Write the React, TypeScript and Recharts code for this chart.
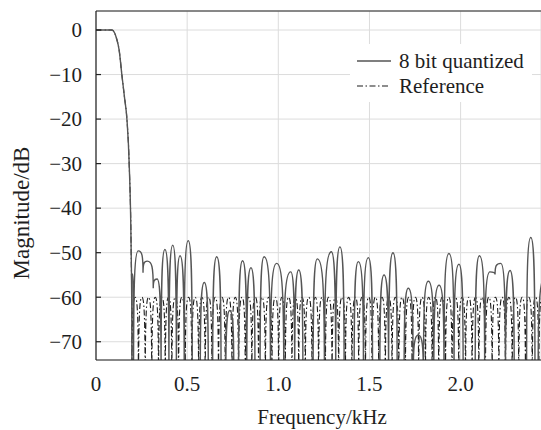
import React from 'react';
import { LineChart, Line, XAxis, YAxis, CartesianGrid, Legend, ReferenceLine } from 'recharts';

const FONT = 'Liberation Serif, Tinos, Times New Roman, DejaVu Serif, serif';
const TEXT = '#1e1e1e';
const QUANT_COLOR = '#555555';
const REF_COLOR = '#1c1c1c';
const REF_DASH = '6 2.5 1.5 2.5';

// pass band + transition band (both responses share it)
const bandFreq = [0, 0.04, 0.085, 0.097, 0.112, 0.127, 0.142, 0.156, 0.17, 0.182, 0.193];
const bandDb = [0, 0, 0, -0.3, -1.8, -4.5, -10.1, -15, -20.2, -30, -50];

// 8 bit quantized stop band: lobe peaks, dips and nulls (nulls sit below the axis)
const quantFreq = [
  0.197, 0.201, 0.206, 0.232, 0.258, 0.281, 0.314, 0.335, 0.357, 0.378,
  0.4, 0.421, 0.441, 0.461, 0.484, 0.506, 0.528, 0.572, 0.594, 0.616,
  0.64, 0.662, 0.686, 0.712, 0.734, 0.756, 0.782, 0.804, 0.827, 0.85,
  0.872, 0.9, 0.922, 0.957, 0.991, 1.03, 1.068, 1.09, 1.112, 1.135,
  1.191, 1.214, 1.253, 1.291, 1.315, 1.338, 1.361, 1.416, 1.439, 1.467,
  1.494, 1.517, 1.557, 1.58, 1.605, 1.629, 1.652, 1.69, 1.713, 1.74,
  1.768, 1.796, 1.823, 1.853, 1.882, 1.909, 1.936, 1.964, 1.991, 2.014,
  2.08, 2.103, 2.132, 2.161, 2.189, 2.22, 2.246, 2.271, 2.294, 2.362,
  2.385, 2.408, 2.425, 2.47,
];
const quantDb = [
  -79, -54.8, -79, -49.6, -54.5, -51.9, -58, -55.9, -79, -49.3,
  -79, -48.3, -79, -50.7, -79, -47.3, -79, -79, -56.7, -79,
  -79, -50.9, -79, -79, -63, -79, -79, -51.8, -79, -53.4,
  -79, -79, -50.9, -79, -52.4, -79, -54.3, -79, -53.9, -79,
  -79, -51.4, -79, -49.8, -79, -48.7, -79, -79, -52, -79,
  -51.1, -79, -79, -55, -79, -50, -79, -79, -58, -79,
  -68.5, -79, -56.4, -79, -57.3, -79, -50.2, -79, -52.6, -79,
  -79, -50.7, -79, -54.3, -54.9, -52.4, -79, -54, -79, -79,
  -46.6, -79, -79, -55,
];

// reference (unquantized) equiripple stop band
const refPeakFreq = [
  0.215, 0.252, 0.288, 0.325, 0.361, 0.398, 0.435, 0.471, 0.508, 0.544,
  0.581, 0.618, 0.654, 0.691, 0.727, 0.764, 0.801, 0.837, 0.874, 0.91,
  0.947, 0.984, 1.02, 1.057, 1.093, 1.13, 1.167, 1.203, 1.24, 1.276,
  1.313, 1.35, 1.386, 1.423, 1.459, 1.496, 1.533, 1.569, 1.606, 1.642,
  1.679, 1.716, 1.752, 1.789, 1.825, 1.862, 1.899, 1.935, 1.972, 2.008,
  2.045, 2.082, 2.118, 2.155, 2.191, 2.228, 2.265, 2.301, 2.338, 2.374,
  2.411, 2.448,
];
const refNullFreq = [
  0.197, 0.233, 0.27, 0.306, 0.343, 0.38, 0.416, 0.453, 0.489, 0.526,
  0.563, 0.599, 0.636, 0.672, 0.709, 0.746, 0.782, 0.819, 0.855, 0.892,
  0.929, 0.965, 1.002, 1.038, 1.075, 1.112, 1.148, 1.185, 1.221, 1.258,
  1.295, 1.331, 1.368, 1.404, 1.441, 1.478, 1.514, 1.551, 1.587, 1.624,
  1.661, 1.697, 1.734, 1.77, 1.807, 1.844, 1.88, 1.917, 1.953, 1.99,
  2.027, 2.063, 2.1, 2.136, 2.173, 2.21, 2.246, 2.283, 2.319, 2.356,
  2.393, 2.429, 2.466,
];
const REF_PEAK_DB = -60;
const REF_NULL_DB = -86;

const xTicks = [0, 0.5, 1.0, 1.5, 2.0];
const yTicks = [0, -10, -20, -30, -40, -50, -60, -70];

const bandData = bandFreq.map((f, i) => ({ f, db: bandDb[i] }));
const quantData = [...bandData, ...quantFreq.map((f, i) => ({ f, db: quantDb[i] }))];
const refData = [
  ...bandData,
  ...[
    ...refNullFreq.map((f) => ({ f, db: REF_NULL_DB })),
    ...refPeakFreq.map((f) => ({ f, db: REF_PEAK_DB })),
  ].sort((a, b) => a.f - b.f),
];

// curve: flat tops on maxima, vertical flanks into minima, monotone elsewhere
const ARC = 0.78;
const lobeCurve = (context: any) => {
  let px: number[] = [];
  let py: number[] = [];
  return {
    areaStart() {},
    areaEnd() {},
    lineStart() {
      px = [];
      py = [];
    },
    point(x: number, y: number) {
      px.push(+x);
      py.push(+y);
    },
    lineEnd() {
      const n = px.length;
      if (!n) return;
      context.moveTo(px[0], py[0]);
      const kind: string[] = [];
      const m: number[] = [];
      for (let i = 0; i < n; i++) {
        const yp = i > 0 ? py[i - 1] : py[i];
        const yn = i < n - 1 ? py[i + 1] : py[i];
        m.push(0);
        if (py[i] <= yp && py[i] <= yn) kind.push('h');
        else if (py[i] >= yp && py[i] >= yn) kind.push('v');
        else {
          kind.push('s');
          const h0 = px[i] - px[i - 1];
          const h1 = px[i + 1] - px[i];
          const s0 = (py[i] - py[i - 1]) / h0;
          const s1 = (py[i + 1] - py[i]) / h1;
          const p = (s0 * h1 + s1 * h0) / (h0 + h1);
          m[i] = (Math.sign(s0) + Math.sign(s1)) * Math.min(Math.abs(s0), Math.abs(s1), 0.5 * Math.abs(p));
        }
      }
      for (let i = 0; i < n - 1; i++) {
        const x0 = px[i], y0 = py[i], x1 = px[i + 1], y1 = py[i + 1];
        const dx = x1 - x0, dy = y1 - y0;
        let c1x = x0 + dx / 3, c1y = y0 + (m[i] * dx) / 3;
        if (kind[i] === 'h') { c1x = x0 + ARC * dx; c1y = y0; }
        if (kind[i] === 'v') { c1x = x0; c1y = y0 + ARC * dy; }
        let c2x = x1 - dx / 3, c2y = y1 - (m[i + 1] * dx) / 3;
        if (kind[i + 1] === 'h') { c2x = x1 - ARC * dx; c2y = y1; }
        if (kind[i + 1] === 'v') { c2x = x1; c2y = y1 - ARC * dy; }
        context.bezierCurveTo(c1x, c1y, c2x, c2y, x1, y1);
      }
    },
  };
};

const fmtY = (v: number) => (v < 0 ? `\u2212${-v}` : `${v}`);
const fmtX = (v: number) => (v === 0 ? '0' : v.toFixed(1));

const textStyle = { fontFamily: FONT, fontSize: 21 };

const YTick = (props: any) => {
  const { x, y, payload } = props;
  return (
    <g>
      <line x1={x + 14} x2={x + 19} y1={y} y2={y} stroke="#222" strokeWidth={1.2} />
      <text x={x} y={y} dy="0.35em" textAnchor="end" style={textStyle} fill={TEXT}>
        {fmtY(payload.value)}
      </text>
    </g>
  );
};

const XTick = (props: any) => {
  const { x, y, payload } = props;
  return (
    <text x={x} y={y} dy="0.71em" textAnchor="middle" style={textStyle} fill={TEXT}>
      {fmtX(payload.value)}
    </text>
  );
};

const LegendBox = () => (
  <svg width={182} height={58} style={{ display: 'block', background: '#fff' }}>
    <line x1={7} x2={41} y1={17} y2={17} stroke={QUANT_COLOR} strokeWidth={1.4} />
    <text x={49} y={17} dy="0.35em" style={textStyle} fill={TEXT}>
      8 bit quantized
    </text>
    <line x1={7} x2={40} y1={42} y2={42} stroke={REF_COLOR} strokeWidth={1.1} strokeDasharray={REF_DASH} />
    <text x={49} y={42} dy="0.35em" style={textStyle} fill={TEXT}>
      Reference
    </text>
  </svg>
);

export default function App() {
  return (
    <div
      style={{ position: 'absolute', left: 0, top: 0, width: 541, height: 430, background: '#fff', fontFamily: FONT }}
    >
      <LineChart width={541} height={430} margin={{ top: 11, right: 0, bottom: 0, left: 0 }}>
        <CartesianGrid stroke="#dcdcdc" strokeWidth={1} />
        <XAxis
          dataKey="f"
          type="number"
          domain={[0, 2.441]}
          allowDataOverflow
          ticks={xTicks}
          interval={0}
          tickLine={false}
          tickSize={0}
          tickMargin={16}
          height={70}
          axisLine={{ stroke: '#222', strokeWidth: 1.2 }}
          tick={<XTick />}
          label={() => (
            <text x={322} y={424} textAnchor="middle" style={textStyle} fill={TEXT}>
              Frequency/kHz
            </text>
          )}
        />
        <YAxis
          type="number"
          domain={[-74.1, 4.27]}
          allowDataOverflow
          ticks={yTicks}
          interval={0}
          width={96}
          tickSize={0}
          tickMargin={14}
          tickLine={false}
          axisLine={{ stroke: '#222', strokeWidth: 1.2 }}
          tick={<YTick />}
          label={() => (
            <text
              x={29}
              y={213}
              transform="rotate(-90 29 213)"
              textAnchor="middle"
              style={{ fontFamily: FONT, fontSize: 23 }}
              fill={TEXT}
            >
              Magnitude/dB
            </text>
          )}
        />
        <ReferenceLine y={4.27} stroke="#222" strokeWidth={1.2} ifOverflow="extendDomain" />
        <Line
          data={refData}
          dataKey="db"
          type={lobeCurve as any}
          stroke={REF_COLOR}
          strokeWidth={1.1}
          strokeDasharray={REF_DASH}
          dot={false}
          activeDot={false}
          isAnimationActive={false}
        />
        <Line
          data={quantData}
          dataKey="db"
          type={lobeCurve as any}
          stroke={QUANT_COLOR}
          strokeWidth={1.4}
          dot={false}
          activeDot={false}
          isAnimationActive={false}
        />
        <Legend
          layout="horizontal"
          verticalAlign="middle"
          width={182}
          wrapperStyle={{ left: 350, top: 44, width: 182, height: 58 }}
          content={() => <LegendBox />}
        />
      </LineChart>
    </div>
  );
}
